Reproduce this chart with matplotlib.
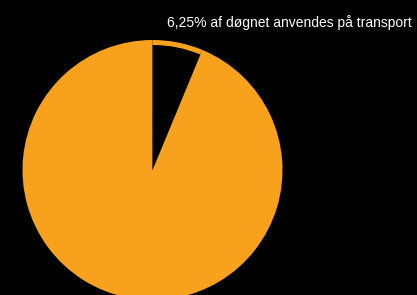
import matplotlib.pyplot as plt

labels = ['transport', 'resten af døgnet']
shares = [6.25, 93.75]
colors = ['#000000', '#f8a11c']
title = '6,25% af døgnet anvendes på transport'

W, H = 417, 295
fig = plt.figure(figsize=(W / 100, H / 100), dpi=100, facecolor='black')
ax = fig.add_axes([0, 0, 1, 1])
ax.set_facecolor('black')

center = (152.5, H - 170)
# orange disc underneath, then the black slice a bit smaller on top of it
ax.pie(shares, colors=[colors[1], colors[1]], startangle=90, counterclock=False,
       radius=130, center=center, frame=True)
ax.pie(shares, colors=[colors[0], 'none'], startangle=90, counterclock=False,
       radius=125, center=center, frame=True)

ax.set_xlim(0, W)
ax.set_ylim(0, H)
ax.set_aspect('equal')
ax.axis('off')

fig.text(412 / W, 1 - 23 / H, title, color='white', fontsize=9.98,
         family='Liberation Sans', ha='right', va='center')

fig.savefig('out.png', dpi=100, facecolor='black')
